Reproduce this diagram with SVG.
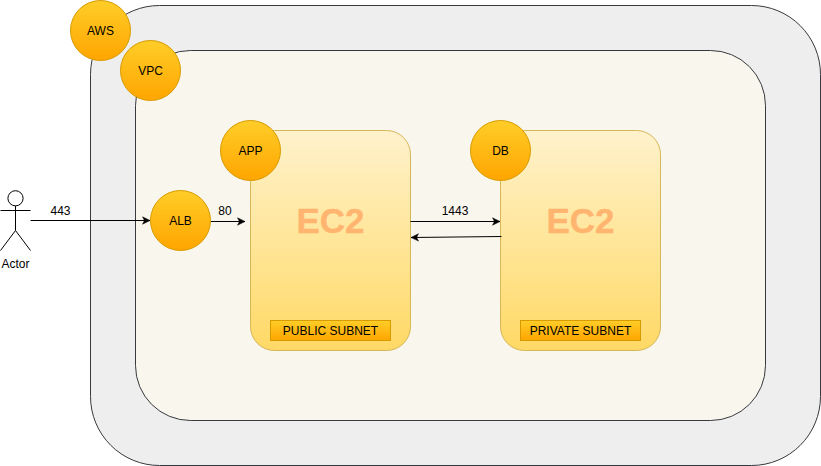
<svg xmlns="http://www.w3.org/2000/svg" width="821" height="466" viewBox="0 0 821 466">
<style>
text{font-family:"Liberation Sans",Arial,sans-serif;font-size:12px;fill:#000;text-anchor:middle}
.c{fill:url(#o);stroke:#d79b00;stroke-width:1}
.s{fill:url(#y);stroke:#d6b656;stroke-width:1}
.e{font-size:35px;font-weight:bold;fill:#ffb570;stroke:#ffb570;stroke-width:.4}
.l{fill:none;stroke:#000;stroke-width:1;marker-end:url(#a)}
</style>
<defs>
<linearGradient id="o" x1="0" y1="0" x2="0" y2="1"><stop offset="0" stop-color="#ffcd28"/><stop offset="1" stop-color="#ffa500"/></linearGradient>
<linearGradient id="y" x1="0" y1="0" x2="0" y2="1"><stop offset="0" stop-color="#fff2cc"/><stop offset="1" stop-color="#ffd966"/></linearGradient>
<marker id="a" markerUnits="userSpaceOnUse" markerWidth="10" markerHeight="10" refX="8" refY="4.500" orient="auto"><path d="M0.500 0.800L8 4.500L0.500 8.200L2.400 4.500Z" fill="#000" stroke="#000" stroke-width=".5"/></marker>
</defs>
<g id="aws-box"><rect x="90.500" y="5.500" width="730" height="460" rx="69" fill="#eeeeee" stroke="#36393d"/></g>
<g id="vpc-box"><rect x="135.500" y="50.500" width="630" height="370" rx="55" fill="#f9f7ed" stroke="#36393d"/></g>
<g id="public-ec2"><rect class="s" x="250.500" y="130.500" width="160" height="220" rx="24"/><text class="e" x="330.500" y="233">EC2</text></g>
<g id="private-ec2"><rect class="s" x="500.500" y="130.500" width="160" height="220" rx="24"/><text class="e" x="580.500" y="233">EC2</text></g>
<g id="public-subnet"><rect class="c" x="270.500" y="320.500" width="120" height="20"/><text x="330.500" y="335">PUBLIC SUBNET</text></g>
<g id="private-subnet"><rect class="c" x="520.500" y="320.500" width="120" height="20"/><text x="580.500" y="335">PRIVATE SUBNET</text></g>
<g id="connectors">
<path class="l" d="M30.500 220.500H150"/>
<path class="l" d="M210.500 221.500H245"/>
<path class="l" d="M410.500 221.500H500"/>
<path class="l" d="M501.500 236.500L411 237.500"/>
<text x="60.500" y="215">443</text>
<text x="225" y="215">80</text>
<text x="455" y="215">1443</text>
</g>
<g id="aws"><circle class="c" cx="100.500" cy="30.500" r="30"/><text x="100.500" y="35">AWS</text></g>
<g id="vpc"><circle class="c" cx="150.500" cy="70.500" r="30"/><text x="150.500" y="75">VPC</text></g>
<g id="app"><circle class="c" cx="250.500" cy="150.500" r="30"/><text x="250.500" y="155">APP</text></g>
<g id="db"><circle class="c" cx="500.500" cy="150.500" r="30"/><text x="500.500" y="155">DB</text></g>
<g id="alb"><circle class="c" cx="180.500" cy="220.500" r="30"/><text x="180.500" y="225">ALB</text></g>
<g id="actor" fill="none" stroke="#000">
<circle cx="15.500" cy="198.300" r="7.600" fill="#fff"/>
<path d="M15.500 205.900V230.500M0.500 210.500H30.500M0.500 250.500L15.500 230.500L30.500 250.500"/>
<text x="15.500" y="268" stroke="none" fill="#000">Actor</text>
</g>
</svg>
